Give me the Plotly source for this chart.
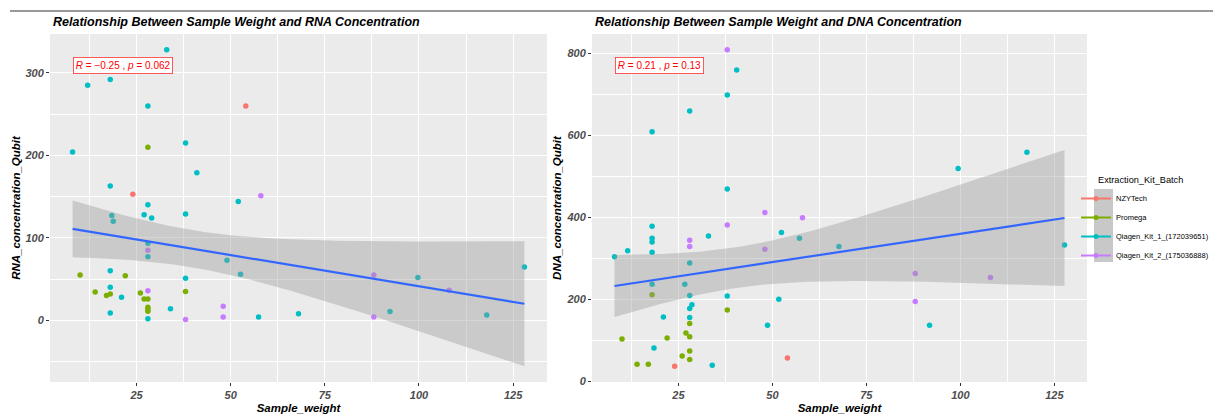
import numpy as np
import plotly.graph_objects as go

# ---------------- data ----------------
kits = ["NZYTech", "Promega", "Qiagen_Kit_1_(172039651)", "Qiagen_Kit_2_(175036888)"]
kit_colors = ["#F8766D", "#7CAE00", "#00BFC4", "#C77CFF"]

# RNA panel
rna_w_nzy = [54, 24]
rna_c_nzy = [260, 153]
rna_w_pro = [28, 10, 22, 14, 17, 18, 26, 27, 28, 28, 28, 28, 38]
rna_c_pro = [210, 55, 54, 34.5, 30, 32, 33, 26, 26, 16, 13, 11, 35]
rna_w_q1 = [33, 12, 18, 28, 8, 38, 41, 18, 52, 28, 27, 38, 29, 18.4, 18.8, 28, 28, 49,
            52.6, 18, 38, 18, 21, 34, 18, 28, 57.4, 68, 92.3, 99.7, 118, 128]
rna_c_q1 = [328, 285, 292, 260, 204, 215, 179, 163, 144, 140, 128, 129, 124, 127, 120, 93.5, 77, 73,
            56, 60, 51, 40, 28, 14, 9, 2, 4, 8, 10.6, 52, 6.5, 64.6]
rna_w_q2 = [58, 28, 28, 38, 48, 48, 88, 88, 108]
rna_c_q2 = [151, 85, 36, 1, 17, 4, 55, 4, 36.6]

# DNA panel
dna_w_nzy = [24, 54]
dna_c_nzy = [37, 57]
dna_w_pro = [18, 38, 28, 10, 22, 27, 28, 28, 26, 28, 14, 17]
dna_c_pro = [211, 174, 141, 103, 106, 118, 109, 74, 62, 53, 42, 42]
dna_w_q1 = [40.5, 38, 28, 18, 38, 18, 33, 52.4, 57.2, 18, 18, 11.5, 18, 8, 28, 18, 26.7, 28, 38,
            51.7, 28.6, 28, 21, 28, 48.7, 18.5, 34, 99.4, 117.7, 67.7, 91.8, 127.7]
dna_c_q1 = [759, 698.5, 659, 609, 469, 378, 354.5, 362.7, 349, 349, 340, 318.6, 315, 304, 288.5, 237, 237, 209.5, 208,
            200.5, 186.6, 177.7, 157, 155.7, 137, 81.5, 39, 519, 559, 329, 137, 332.5]
dna_w_q2 = [38, 48, 58, 38, 28, 28, 48, 88, 88, 108]
dna_c_q2 = [808.5, 412, 399, 381, 344, 329, 322, 263, 195, 253.5]

rna_cor_label = "<i>R</i> = \u22120.25 , <i>p</i> = 0.062"
dna_cor_label = "<i>R</i> = 0.21 , <i>p</i> = 0.13"

titles = ["Relationship Between Sample Weight and RNA Concentration",
          "Relationship Between Sample Weight and DNA Concentration"]
x_title = "Sample_weight"
y_titles = ["RNA_concentration_Qubit", "DNA_concentration_Qubit"]
legend_title = "Extraction_Kit_Batch"

# ---------------- helpers ----------------
W, H = 1213, 415


def px_x(p):
    return p / W


def px_y(p):
    return 1 - p / H


def t_quantile_975(df):
    z = 1.959963985
    g1 = (z ** 3 + z) / 4
    g2 = (5 * z ** 5 + 16 * z ** 3 + 3 * z) / 96
    g3 = (3 * z ** 7 + 19 * z ** 5 + 17 * z ** 3 - 15 * z) / 384
    return z + g1 / df + g2 / df ** 2 + g3 / df ** 3


def lm_fit(x, y, npts=80):
    x = np.asarray(x, float)
    y = np.asarray(y, float)
    n = len(x)
    xb, yb = x.mean(), y.mean()
    sxx = ((x - xb) ** 2).sum()
    b1 = ((x - xb) * (y - yb)).sum() / sxx
    b0 = yb - b1 * xb
    resid = y - (b0 + b1 * x)
    s = np.sqrt((resid ** 2).sum() / (n - 2))
    xg = np.linspace(x.min(), x.max(), npts)
    fit = b0 + b1 * xg
    se = s * np.sqrt(1 / n + (xg - xb) ** 2 / sxx)
    t = t_quantile_975(n - 2)
    return xg, fit, fit - t * se, fit + t * se


PANEL_TOP, PANEL_BOTTOM = 34, 382
panels = [
    dict(w=[rna_w_nzy, rna_w_pro, rna_w_q1, rna_w_q2], c=[rna_c_nzy, rna_c_pro, rna_c_q1, rna_c_q2],
         label=rna_cor_label, xa="x", ya="y", dom_x=(50, 547), ydtick=100, yminor=50),
    dict(w=[dna_w_nzy, dna_w_pro, dna_w_q1, dna_w_q2], c=[dna_c_nzy, dna_c_pro, dna_c_q1, dna_c_q2],
         label=dna_cor_label, xa="x2", ya="y2", dom_x=(592, 1087), ydtick=200, yminor=100),
]

fig = go.Figure()
FONT = "Liberation Sans, Arial, sans-serif"
annotations = []
shapes = []
layout_axes = {}

for i, p in enumerate(panels):
    allx = sum(p["w"], [])
    ally = sum(p["c"], [])
    for k in range(4):
        fig.add_trace(go.Scatter(x=p["w"][k], y=p["c"][k], mode="markers", xaxis=p["xa"], yaxis=p["ya"],
                                 marker=dict(color=kit_colors[k], size=5.5, line=dict(width=0)),
                                 showlegend=False, name=kits[k], hoverinfo="x+y"))
    xg, fit, lo, hi = lm_fit(allx, ally)
    fig.add_trace(go.Scatter(x=np.concatenate([xg, xg[::-1]]), y=np.concatenate([hi, lo[::-1]]),
                             fill="toself", fillcolor="rgba(153,153,153,0.4)", line=dict(width=0),
                             mode="lines", xaxis=p["xa"], yaxis=p["ya"], showlegend=False, hoverinfo="skip"))
    fig.add_trace(go.Scatter(x=xg, y=fit, mode="lines", line=dict(color="#3366FF", width=2.2),
                             xaxis=p["xa"], yaxis=p["ya"], showlegend=False, hoverinfo="skip"))

    xmin, xmax = min(allx), max(allx)
    xpad = 0.05 * (xmax - xmin)
    ymin = min(min(ally), lo.min())
    ymax = max(max(ally), hi.max())
    ypad = 0.05 * (ymax - ymin)
    yr = [ymin - ypad, ymax + ypad]

    tickfont = dict(family=FONT, size=11, color="#4D4D4D", weight="bold", style="italic")
    titlefont = dict(family=FONT, size=11.5, color="black", weight="bold", style="italic")
    sfx = "" if i == 0 else "2"
    layout_axes["xaxis" + sfx] = dict(
        domain=[px_x(p["dom_x"][0]), px_x(p["dom_x"][1])], range=[xmin - xpad, xmax + xpad],
        anchor="y" + sfx, tick0=0, dtick=25, showgrid=True, gridcolor="white", gridwidth=1.2,
        minor=dict(tick0=0, dtick=12.5, showgrid=True, gridcolor="white", gridwidth=0.5),
        zeroline=False, ticks="outside", ticklen=3, tickcolor="#333333", tickwidth=1,
        tickfont=tickfont, showline=False, automargin=False,
        title=dict(text=x_title, font=titlefont, standoff=3))
    layout_axes["yaxis" + sfx] = dict(
        domain=[px_y(PANEL_BOTTOM), px_y(PANEL_TOP)], range=yr,
        anchor="x" + sfx, tick0=0, dtick=p["ydtick"], showgrid=True, gridcolor="white", gridwidth=1.2,
        minor=dict(tick0=0, dtick=p["yminor"], showgrid=True, gridcolor="white", gridwidth=0.5),
        zeroline=False, ticks="outside", ticklen=3, tickcolor="#333333", tickwidth=1,
        tickfont=tickfont, showline=False, automargin=False,
        title=dict(text=y_titles[i], font=titlefont, standoff=2 if i == 1 else 1))

    annotations.append(dict(text=titles[i], xref="paper", yref="paper", x=px_x(p["dom_x"][0] + 1),
                            y=px_y(22), xanchor="left", yanchor="middle", showarrow=False,
                            font=dict(family=FONT, size=12.5, color="black", weight="bold", style="italic")))
    frac = (PANEL_BOTTOM - 65.5) / (PANEL_BOTTOM - PANEL_TOP)
    annotations.append(dict(text=p["label"], xref=p["xa"], yref=p["ya"], x=xmin,
                            y=yr[0] + frac * (yr[1] - yr[0]), showarrow=False,
                            xanchor="left", yanchor="middle", bgcolor="white", bordercolor="#FF3030",
                            borderwidth=0.8, borderpad=2,
                            font=dict(family=FONT, size=10, color="#FF0000")))

# legend title (placed as text above the keys)
annotations.append(dict(text=legend_title, xref="paper", yref="paper", x=px_x(1096), y=px_y(180),
                        xanchor="left", yanchor="middle", showarrow=False,
                        font=dict(family=FONT, size=9.2, color="black")))

# legend entries
for k in range(4):
    fig.add_trace(go.Scatter(x=[None], y=[None], mode="lines+markers", name=kits[k],
                             line=dict(color=kit_colors[k], width=2), marker=dict(color=kit_colors[k], size=5),
                             showlegend=True))

shapes.append(dict(type="line", xref="paper", yref="paper", x0=px_x(10), x1=1, y0=px_y(11), y1=px_y(11),
                   line=dict(color="#333333", width=1)))
shapes.append(dict(type="rect", xref="paper", yref="paper", x0=px_x(1094), x1=px_x(1113),
                   y0=px_y(262), y1=px_y(189), fillcolor="#C8C8C8", line=dict(width=0), layer="below"))

fig.update_layout(
    width=W, height=H, margin=dict(l=0, r=0, t=0, b=0, autoexpand=False),
    paper_bgcolor="white", plot_bgcolor="#EBEBEB",
    showlegend=True,
    legend=dict(x=px_x(1076), y=px_y(184), xanchor="left", yanchor="top", bgcolor="rgba(0,0,0,0)",
                font=dict(family=FONT, size=7.5, color="black"), itemwidth=30, tracegroupgap=0),
    annotations=annotations, shapes=shapes, **layout_axes)

fig.write_html("out.html")
